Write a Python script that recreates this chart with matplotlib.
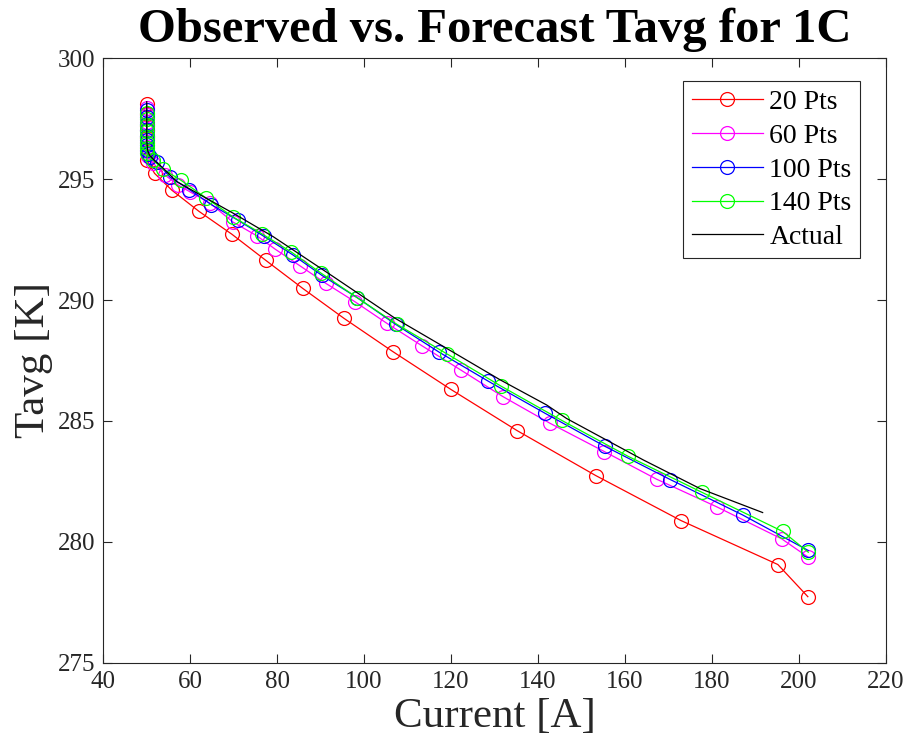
import matplotlib
matplotlib.use("Agg")
import matplotlib.pyplot as plt

plt.rcParams['font.family'] = ['Liberation Serif', 'DejaVu Serif']

# 20 Pts forecast
x_20 = [50.0, 50.0, 50.0, 50.0, 50.0, 51.8, 55.8, 62.0, 69.6, 77.4, 85.9, 95.4,
        106.6, 120.0, 135.2, 153.3, 172.9, 195.2, 202.1]
t_20 = [298.1, 297.7, 297.2, 296.7, 295.8, 295.24, 294.54, 293.67, 292.72, 291.64,
        290.48, 289.24, 287.87, 286.30, 284.60, 282.74, 280.88, 279.06, 277.73]

# 60 Pts forecast
x_60 = [50.0, 50.0, 50.0, 50.0, 50.0, 50.0, 50.0, 50.0, 50.3, 51.4, 54.2, 57.2,
        60.0, 64.6, 69.8, 75.4, 79.5, 85.3, 91.2, 97.9, 105.3, 113.3, 122.3, 132.0,
        142.8, 155.3, 167.3, 181.1, 196.1, 202.2]
t_60 = [297.95, 297.65, 297.35, 297.05, 296.8, 296.55, 296.35, 296.15, 295.95, 295.67,
        295.17, 294.76, 294.47, 294.0, 293.23, 292.65, 292.11, 291.41, 290.69, 289.93,
        289.03, 288.11, 287.10, 286.0, 284.90, 283.73, 282.59, 281.45, 280.12, 279.36]

# 100 Pts forecast
x_100 = [50.0, 50.0, 50.0, 50.0, 50.0, 50.0, 50.0, 50.0, 50.2, 50.8, 52.4, 55.3,
         59.8, 64.9, 71.1, 77.0, 83.6, 90.3, 98.4, 107.3, 117.3, 128.6, 141.6, 155.4,
         170.5, 187.1, 202.2]
t_100 = [297.85, 297.55, 297.3, 297.05, 296.8, 296.6, 296.4, 296.2, 296.05, 295.9,
         295.70, 295.09, 294.57, 293.94, 293.29, 292.63, 291.87, 291.02, 290.10, 288.99,
         287.84, 286.64, 285.32, 283.95, 282.57, 281.11, 279.64]

# 140 Pts forecast
x_140 = [50.0, 50.0, 50.0, 50.0, 50.0, 50.0, 50.0, 50.0, 51.5, 53.8, 57.9, 63.6,
         69.9, 76.5, 83.3, 90.2, 98.4, 107.6, 119.0, 131.5, 145.5, 160.8, 177.7, 196.3,
         202.2]
t_140 = [297.75, 297.5, 297.25, 297.0, 296.75, 296.5, 296.3, 296.1, 295.78, 295.41,
         294.95, 294.23, 293.43, 292.74, 291.98, 291.10, 290.10, 288.99, 287.78, 286.44,
         285.02, 283.53, 282.05, 280.43, 279.57]

# Actual
x_act = [50.0, 50.0, 50.0, 50.2, 50.6, 51.2, 51.9, 53.5, 56.9, 63.0, 69.9, 79.1,
         92.9, 107.1, 119.0, 131.3, 142.0, 146.6, 164.2, 177.3, 191.7]
t_act = [298.2, 297.2, 296.6, 296.2, 296.0, 295.88, 295.75, 295.5, 294.9, 294.28,
         293.59, 292.62, 290.97, 289.25, 288.0, 286.70, 285.66, 285.1, 283.39, 282.2,
         281.21]

series = [
    (x_20, t_20, '#ff0000', '20 Pts'),
    (x_60, t_60, '#ff00ff', '60 Pts'),
    (x_100, t_100, '#0000ff', '100 Pts'),
    (x_140, t_140, '#00ff00', '140 Pts'),
]

fig = plt.figure(figsize=(9.09, 7.44), dpi=100)
ax = fig.add_axes([0.1136, 0.1093, 0.8607, 0.8124])

for xs, ts, col, lab in series:
    ax.plot(xs, ts, color=col, linewidth=0.9, marker='o', markersize=10,
            markerfacecolor='none', markeredgecolor=col, markeredgewidth=0.9, label=lab)
ax.plot(x_act, t_act, color='black', linewidth=0.9, label='Actual')

ax.set_xlim(40, 220)
ax.set_ylim(275, 300)
ax.set_xticks(range(40, 221, 20))
ax.set_yticks(range(275, 301, 5))

for sp in ax.spines.values():
    sp.set_color('#262626')
    sp.set_linewidth(0.8)
ax.tick_params(direction='in', length=6.5, width=0.8, colors='#262626',
               labelcolor='#262626', labelsize=18, top=True, right=True, pad=6)

ax.set_title('Observed vs. Forecast Tavg for 1C', fontsize=35, fontweight='bold', pad=12)
ax.set_xlabel('Current [A]', fontsize=31, labelpad=3, color='#262626')
ax.set_ylabel('Tavg [K]', fontsize=31, labelpad=3, color='#262626')

leg = ax.legend(loc='upper right', bbox_to_anchor=(0.967, 0.962), borderaxespad=0,
                fontsize=20, handlelength=2.55, handletextpad=0.24, labelspacing=0.3,
                borderpad=0.3, fancybox=False, framealpha=1, edgecolor='#262626')
leg.get_frame().set_linewidth(0.8)

fig.savefig('out.png', dpi=100)
